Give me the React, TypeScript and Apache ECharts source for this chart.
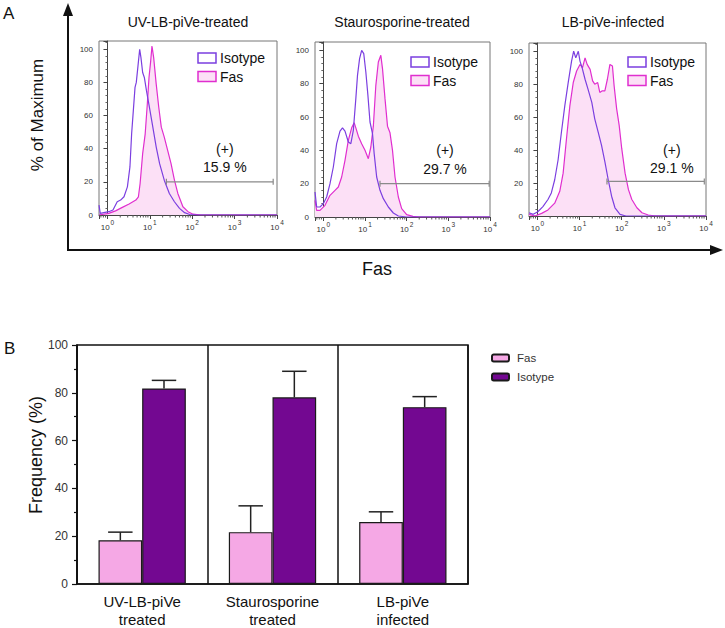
import React, { useEffect, useRef } from 'react';
import * as echarts from 'echarts';

const FONT = '"Liberation Sans", Arial, Helvetica, sans-serif';

// ---------- Panel A: flow-cytometry histograms (x = log10 of Fas fluorescence, y = % of maximum)
const panelTitles = ['UV-LB-piVe-treated', 'Staurosporine-treated', 'LB-piVe-infected'];

const isotypeUV = [
  [-0.2, 6], [-0.17, 1], [0.03, 2], [0.13, 3], [0.23, 8], [0.31, 9], [0.39, 11], [0.47, 17], [0.53, 29],
  [0.57, 49], [0.61, 63], [0.65, 77], [0.68, 80], [0.72, 90], [0.76, 100], [0.79, 95], [0.83, 86], [0.87, 83],
  [0.92, 75], [0.99, 65], [1.07, 53], [1.15, 41], [1.23, 31], [1.34, 21], [1.46, 13], [1.58, 8], [1.7, 4],
  [1.82, 1.4], [1.94, 0.3], [2.1, 0], [4, 0],
];
const fasUV = [
  [-0.2, 0], [0.03, 1], [0.19, 2.5], [0.35, 4.6], [0.51, 6.6], [0.67, 9], [0.73, 11], [0.77, 19], [0.83, 37],
  [0.89, 49], [0.94, 67], [0.98, 83], [1.02, 93], [1.05, 102], [1.09, 95], [1.15, 79], [1.21, 65], [1.27, 53],
  [1.34, 47], [1.42, 39], [1.5, 31], [1.58, 21], [1.66, 13], [1.78, 5], [1.9, 2], [2.02, 0.5], [2.2, 0], [4, 0],
];
const isotypeStauro = [
  [-0.2, 15], [-0.16, 6], [-0.08, 6], [0, 8], [0.08, 12], [0.16, 20], [0.24, 30], [0.32, 44], [0.4, 51.5],
  [0.46, 53.5], [0.52, 51.5], [0.6, 45], [0.66, 44], [0.72, 52], [0.78, 71], [0.82, 85], [0.87, 95], [0.92, 100],
  [0.97, 98], [1.02, 87], [1.07, 73], [1.12, 57], [1.18, 50], [1.22, 38], [1.28, 24], [1.36, 16], [1.44, 11],
  [1.56, 6], [1.68, 2.4], [1.8, 0.6], [2, 0], [4, 0],
];
const fasStauro = [
  [-0.2, 10], [-0.16, 4], [-0.08, 4], [0.04, 7], [0.16, 13], [0.28, 16], [0.36, 18], [0.44, 24], [0.52, 34],
  [0.6, 46], [0.68, 53.5], [0.74, 56.6], [0.78, 53.5], [0.84, 48.5], [0.92, 44], [1.0, 40], [1.08, 35], [1.14, 42],
  [1.2, 54.5], [1.26, 79], [1.32, 93], [1.38, 97], [1.42, 89], [1.48, 71], [1.54, 54.5], [1.6, 50.5], [1.66, 40],
  [1.72, 24], [1.8, 12], [1.88, 5], [2.0, 1.4], [2.15, 0.4], [2.3, 0], [4, 0],
];
const isotypeInfected = [
  [-0.2, 2], [-0.1, 1], [0.01, 2.6], [0.13, 5.7], [0.25, 10], [0.33, 14], [0.41, 22], [0.49, 34], [0.57, 51],
  [0.65, 67], [0.73, 81], [0.81, 94], [0.86, 100], [0.91, 96], [0.97, 100], [1.01, 94], [1.06, 90], [1.13, 83],
  [1.2, 77], [1.29, 69], [1.36, 59], [1.44, 51], [1.52, 43], [1.6, 33], [1.68, 22], [1.76, 12], [1.84, 5],
  [1.96, 1], [2.1, 0], [4, 0],
];
const fasInfected = [
  [-0.2, 1], [-0.06, 0], [0.1, 1.6], [0.25, 3.7], [0.41, 7.8], [0.53, 15], [0.61, 26], [0.69, 47], [0.77, 67],
  [0.85, 81], [0.93, 88], [1.01, 92], [1.07, 90], [1.13, 96], [1.18, 92], [1.25, 89], [1.31, 82], [1.36, 80],
  [1.43, 81], [1.48, 75], [1.54, 76], [1.6, 76], [1.66, 83], [1.72, 92], [1.78, 91], [1.82, 79], [1.88, 65],
  [1.94, 55], [2.0, 41], [2.08, 26], [2.16, 16], [2.24, 10], [2.36, 5], [2.48, 2], [2.63, 0.6], [2.8, 0], [4, 0],
];
const isotypeCurves = [isotypeUV, isotypeStauro, isotypeInfected];
const fasCurves = [fasUV, fasStauro, fasInfected];

const gateStart = [1.39, 1.36, 1.65];
const gateEnd = [3.91, 3.98, 3.96];
const gateLevel = [20, 20, 21];
const gatePercents = ['15.9 %', '29.7 %', '29.1 %'];
const gateLabelX = [2.77, 2.92, 3.19];
const minorDigits = [2, 3, 4, 5, 6, 7, 8, 9];
const decades = [-1, 0, 1, 2, 3];

// ---------- Panel B: frequency bars
const groupLabels = ['UV-LB-piVe\ntreated', 'Staurosporine\ntreated', 'LB-piVe\ninfected'];
const fasFreq = [18.3, 21.7, 25.9];
const fasErr = [3.4, 11.0, 4.3];
const isoFreq = [81.8, 78.1, 74.0];
const isoErr = [3.4, 10.9, 4.4];

// ---------- layout / styles
const histGrids = [
  { left: 99, top: 41, width: 178, height: 174 },
  { left: 315, top: 42, width: 175, height: 175 },
  { left: 529, top: 43, width: 177, height: 173 },
];
const titleX = [188, 402, 613];
const legendPos = [
  { x: 198, y: 53 },
  { x: 411, y: 57 },
  { x: 628, y: 57 },
];
const ISO_LINE = '#7b3fe0';
const FAS_LINE = '#e02ecf';
const FAS_FILL = '#fce0f6';
const BAR_FAS = '#f5a8e5';
const BAR_ISO = '#730891';

function buildOption() {
  const grid: any[] = histGrids.map((g) => ({ ...g, show: true, borderColor: '#777', borderWidth: 1 }));
  grid.push({ left: 77, top: 345, width: 391, height: 239, show: true, borderColor: '#111', borderWidth: 1.5 });

  const xAxis: any[] = [];
  const yAxis: any[] = [];
  const series: any[] = [];
  const graphic: any[] = [];

  const minorPositions: number[][] = [];
  decades.forEach((d) =>
    minorDigits.forEach((k) => {
      const p = d + Math.log10(k);
      if (p > -0.2 && p < 4) minorPositions.push([p, 0]);
    })
  );

  histGrids.forEach((_, i) => {
    xAxis.push({
      type: 'value',
      gridIndex: i,
      min: -0.2,
      max: 4,
      splitNumber: 4,
      axisLine: { show: true, lineStyle: { color: '#444', width: 1 } },
      axisTick: { show: true, length: 4, lineStyle: { color: '#444' } },
      splitLine: { show: false },
      axisLabel: {
        margin: 4,
        formatter: (v: number) => (Math.abs(v - Math.round(v)) < 1e-6 ? `{b|10}{s|${Math.round(v)}}` : ''),
        rich: {
          b: { fontSize: 8, color: '#333', fontFamily: FONT, verticalAlign: 'bottom' },
          s: { fontSize: 6.5, color: '#333', fontFamily: FONT, verticalAlign: 'top', padding: [0, 0, 5, 1] },
        },
      },
    });
    yAxis.push({
      type: 'value',
      gridIndex: i,
      min: 0,
      max: 105,
      interval: 20,
      axisLine: { show: true, lineStyle: { color: '#444', width: 1 } },
      axisTick: { show: true, length: 4, lineStyle: { color: '#444' } },
      minorTick: { show: true, splitNumber: 5, length: 2, lineStyle: { color: '#666' } },
      splitLine: { show: false },
      axisLabel: {
        fontSize: 8,
        color: '#333',
        fontFamily: FONT,
        margin: 6,
        formatter: (v: number) => (v % 20 === 0 && v <= 100 ? String(v) : ''),
      },
    });

    series.push({
      type: 'line',
      name: 'Fas ' + panelTitles[i],
      xAxisIndex: i,
      yAxisIndex: i,
      data: fasCurves[i],
      symbol: 'none',
      lineStyle: { color: FAS_LINE, width: 1.2 },
      areaStyle: { color: FAS_FILL, opacity: 1 },
      z: 2,
    });
    series.push({
      type: 'line',
      name: 'Isotype ' + panelTitles[i],
      xAxisIndex: i,
      yAxisIndex: i,
      data: isotypeCurves[i],
      symbol: 'none',
      lineStyle: { color: ISO_LINE, width: 1.2 },
      z: 3,
    });
    // log minor ticks
    series.push({
      type: 'custom',
      xAxisIndex: i,
      yAxisIndex: i,
      data: minorPositions,
      silent: true,
      z: 4,
      renderItem: (_p: any, api: any) => {
        const c = api.coord([api.value(0), 0]);
        return {
          type: 'line',
          shape: { x1: c[0], y1: c[1], x2: c[0], y2: c[1] + 2.5 },
          style: { stroke: '#555', lineWidth: 1 },
        };
      },
    });
    // gate
    series.push({
      type: 'custom',
      xAxisIndex: i,
      yAxisIndex: i,
      data: [[gateStart[i], gateEnd[i], gateLevel[i]]],
      silent: true,
      z: 5,
      renderItem: (_p: any, api: any) => {
        const a = api.coord([api.value(0), api.value(2)]);
        const b = api.coord([api.value(1), api.value(2)]);
        const style = { stroke: '#8a8a8a', lineWidth: 1.2 };
        return {
          type: 'group',
          children: [
            { type: 'line', shape: { x1: a[0], y1: a[1], x2: b[0], y2: b[1] }, style },
            { type: 'line', shape: { x1: a[0], y1: a[1] - 3, x2: a[0], y2: a[1] + 3 }, style },
            { type: 'line', shape: { x1: b[0], y1: b[1] - 3, x2: b[0], y2: b[1] + 3 }, style },
          ],
        };
      },
    });
    // gate annotation
    series.push({
      type: 'custom',
      xAxisIndex: i,
      yAxisIndex: i,
      data: [[gateLabelX[i], 40, 29]],
      silent: true,
      z: 6,
      renderItem: (_p: any, api: any) => {
        const a = api.coord([api.value(0), api.value(1)]);
        const b = api.coord([api.value(0), api.value(2)]);
        const st = { fill: '#111', fontSize: 14, fontFamily: FONT, align: 'center', verticalAlign: 'middle' };
        return {
          type: 'group',
          children: [
            { type: 'text', x: a[0], y: a[1], style: { ...st, text: '(+)' } },
            { type: 'text', x: b[0], y: b[1], style: { ...st, text: gatePercents[i] } },
          ],
        };
      },
    });

    // title and legend of each histogram
    graphic.push({
      type: 'text',
      x: titleX[i],
      y: 22,
      style: { text: panelTitles[i], fill: '#111', fontSize: 14, fontFamily: FONT, align: 'center', verticalAlign: 'middle' },
    });
    const L = legendPos[i];
    graphic.push({
      type: 'rect',
      shape: { x: L.x, y: L.y, width: 18, height: 10 },
      style: { fill: '#fff', stroke: ISO_LINE, lineWidth: 1.5 },
    });
    graphic.push({
      type: 'rect',
      shape: { x: L.x, y: L.y + 18.5, width: 18, height: 10 },
      style: { fill: FAS_FILL, stroke: FAS_LINE, lineWidth: 1.5 },
    });
    graphic.push({
      type: 'text',
      x: L.x + 22,
      y: L.y + 5,
      style: { text: 'Isotype', fill: '#111', fontSize: 14, fontFamily: FONT, verticalAlign: 'middle' },
    });
    graphic.push({
      type: 'text',
      x: L.x + 22,
      y: L.y + 23.5,
      style: { text: 'Fas', fill: '#111', fontSize: 14, fontFamily: FONT, verticalAlign: 'middle' },
    });
  });

  // Panel B axes
  xAxis.push({
    type: 'category',
    gridIndex: 3,
    data: groupLabels,
    axisLine: { show: true, lineStyle: { color: '#111', width: 1.5 } },
    axisTick: { show: false },
    splitLine: { show: true, interval: 0, lineStyle: { color: '#111', width: 1.5 } },
    axisLabel: { interval: 0, fontSize: 15, lineHeight: 18, color: '#111', fontFamily: FONT, margin: 8 },
  });
  yAxis.push({
    type: 'value',
    gridIndex: 3,
    min: 0,
    max: 100,
    interval: 20,
    axisLine: { show: true, lineStyle: { color: '#111', width: 1.5 } },
    axisTick: { show: true, length: 5, lineStyle: { color: '#111', width: 1.2 } },
    minorTick: { show: true, splitNumber: 2, length: 3, lineStyle: { color: '#111', width: 1.2 } },
    splitLine: { show: false },
    axisLabel: { fontSize: 12, color: '#333', fontFamily: FONT, margin: 9 },
  });

  series.push({
    type: 'bar',
    name: 'Fas',
    xAxisIndex: 3,
    yAxisIndex: 3,
    data: fasFreq,
    barGap: '0%',
    barCategoryGap: '33%',
    itemStyle: { color: BAR_FAS, borderColor: '#1a1a1a', borderWidth: 1.2 },
    z: 2,
  });
  series.push({
    type: 'bar',
    name: 'Isotype',
    xAxisIndex: 3,
    yAxisIndex: 3,
    data: isoFreq,
    barGap: '0%',
    barCategoryGap: '33%',
    itemStyle: { color: BAR_ISO, borderColor: '#1a1a1a', borderWidth: 1.2 },
    z: 2,
  });
  const errData = [
    ...fasFreq.map((v, i) => [i, v, v + fasErr[i], -1]),
    ...isoFreq.map((v, i) => [i, v, v + isoErr[i], 1]),
  ];
  series.push({
    type: 'custom',
    name: 'error',
    xAxisIndex: 3,
    yAxisIndex: 3,
    data: errData,
    silent: true,
    z: 5,
    renderItem: (_p: any, api: any) => {
      const base = api.coord([api.value(0), api.value(1)]);
      const top = api.coord([api.value(0), api.value(2)]);
      const band = api.size([1, 0])[0];
      const bw = (band * (1 - 0.33)) / 2;
      const cx = base[0] + (api.value(3) * bw) / 2;
      const half = bw * 0.28;
      const style = { stroke: '#222', lineWidth: 1.5 };
      return {
        type: 'group',
        children: [
          { type: 'line', shape: { x1: cx, y1: base[1], x2: cx, y2: top[1] }, style },
          { type: 'line', shape: { x1: cx - half, y1: top[1], x2: cx + half, y2: top[1] }, style },
        ],
      };
    },
  });

  // frame of panel A, labels
  graphic.push(
    { type: 'text', x: 3, y: 13, style: { text: 'A', fill: '#111', fontSize: 17, fontFamily: FONT, verticalAlign: 'middle' } },
    { type: 'text', x: 4, y: 348, style: { text: 'B', fill: '#111', fontSize: 17, fontFamily: FONT, verticalAlign: 'middle' } },
    { type: 'line', shape: { x1: 68, y1: 251, x2: 68, y2: 14 }, style: { stroke: '#111', lineWidth: 2 } },
    { type: 'polygon', shape: { points: [[63, 16], [73, 16], [68, 3]] }, style: { fill: '#111' } },
    { type: 'line', shape: { x1: 67, y1: 250, x2: 712, y2: 250 }, style: { stroke: '#111', lineWidth: 2 } },
    { type: 'polygon', shape: { points: [[710, 245], [710, 255], [723, 250]] }, style: { fill: '#111' } },
    {
      type: 'text',
      x: 37,
      y: 115,
      rotation: Math.PI / 2,
      style: { text: '% of Maximum', fill: '#111', fontSize: 17, fontFamily: FONT, align: 'center', verticalAlign: 'middle' },
    },
    {
      type: 'text',
      x: 377,
      y: 269,
      style: { text: 'Fas', fill: '#111', fontSize: 18, fontFamily: FONT, align: 'center', verticalAlign: 'middle' },
    },
    {
      type: 'text',
      x: 36,
      y: 455,
      rotation: Math.PI / 2,
      style: { text: 'Frequency (%)', fill: '#111', fontSize: 18, fontFamily: FONT, align: 'center', verticalAlign: 'middle' },
    }
  );

  return {
    animation: false,
    backgroundColor: '#fff',
    textStyle: { fontFamily: FONT },
    grid,
    xAxis,
    yAxis,
    series,
    graphic,
    legend: {
      data: ['Fas', 'Isotype'],
      orient: 'vertical',
      left: 486,
      top: 347,
      icon: 'roundRect',
      itemWidth: 17,
      itemHeight: 7,
      itemGap: 7,
      selectedMode: false,
      textStyle: { fontSize: 11.5, color: '#333', fontFamily: FONT, padding: [0, 0, 0, 3] },
    },
  };
}

export default function App() {
  const ref = useRef<HTMLDivElement>(null);
  useEffect(() => {
    if (!ref.current) return;
    const chart = echarts.init(ref.current, undefined, { renderer: 'svg' });
    chart.setOption(buildOption() as any);
    return () => chart.dispose();
  }, []);
  return <div ref={ref} style={{ position: 'fixed', left: 0, top: 0, width: 725, height: 628 }} />;
}
